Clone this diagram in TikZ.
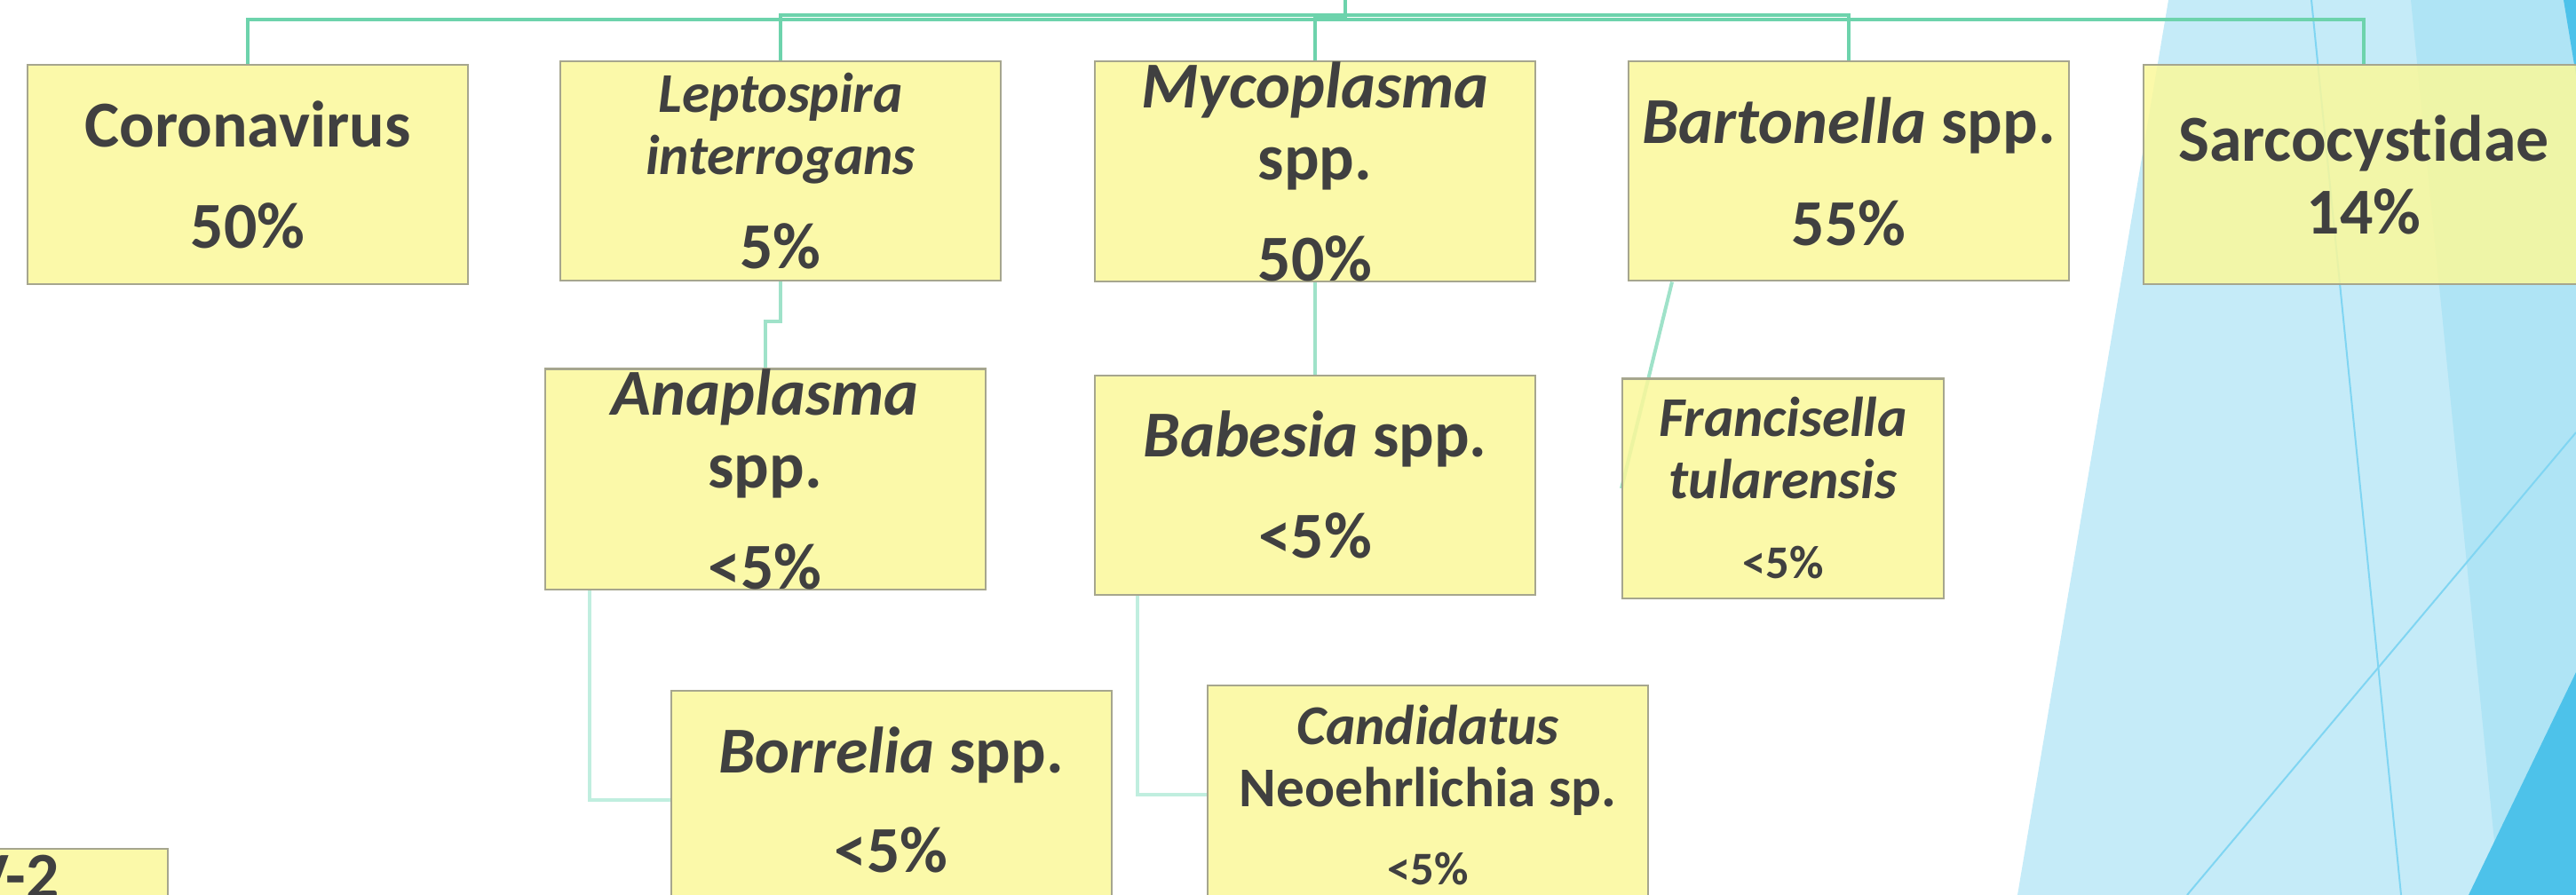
\documentclass[tikz,border=0pt]{standalone}
\usepackage{fontspec}
\setmainfont[Ligatures=NoCommon]{Carlito}
\usetikzlibrary{positioning, backgrounds}

\definecolor{boxfill}{HTML}{FAF89A}
\definecolor{boxline}{HTML}{A6A68E}
\definecolor{txtgray}{HTML}{404040}
\definecolor{linkdark}{HTML}{6DD3AC}
\definecolor{linkmid}{HTML}{9FE2C9}
\definecolor{linklight}{HTML}{C0EEDF}
\definecolor{skylight}{HTML}{C5EBF8}
\definecolor{skymid}{HTML}{AFE4F5}
\definecolor{skydeep}{HTML}{4DC2EA}
\definecolor{skyline}{HTML}{80D5F2}

\newcommand{\txtL}{\fontsize{21pt}{0.7cm}\selectfont}
\newcommand{\txtM}{\fontsize{18pt}{0.7cm}\selectfont}
\newcommand{\txtS}{\fontsize{15pt}{0.7cm}\selectfont}

\begin{document}
\begin{tikzpicture}[
    box/.style = {draw=boxline, line width=0.02cm, fill=boxfill, fill opacity=0.85, text opacity=1,
        text=txtgray, font=\bfseries\txtL, align=center, inner sep=0pt,
        minimum width=4.96cm, minimum height=2.47cm},
    trunk/.style = {linkdark, line width=0.04cm},
    branch/.style = {linkmid, line width=0.04cm},
    twig/.style = {linklight, line width=0.04cm},
    streak/.style = {skyline, line width=0.02cm}
]

    \useasboundingbox (0,0) rectangle (29.01,-10.08);
    \clip (0,0) rectangle (29.01,-10.08);

    \node[box] (corona) at (2.79,-1.97) {Coronavirus\\[0.44cm]50\%};
    \node[box, right = 1.02cm of corona, yshift=0.04cm] (lepto) {{\txtM\itshape Leptospira}\\{\txtM\itshape interrogans}\\[0.36cm]5\%};
    \node[box, right = 1.04cm of lepto] (myco) {{\itshape Mycoplasma}\\[0.11cm]spp.\\[0.44cm]50\%};
    \node[box, right = 1.03cm of myco] (barto) {{\itshape Bartonella} spp.\\[0.45cm]55\%};
    \node[box, right = 0.82cm of barto, yshift=-0.04cm] (sarco) {Sarcocystidae\\[0.12cm]14\%};

    \node[box, below = 0.97cm of lepto, xshift=-0.175cm] (anapl) {{\itshape Anaplasma}\\[0.12cm]spp.\\[0.44cm]<5\%};
    \node[box, below = 1.04cm of myco] (babes) {{\itshape Babesia} spp.\\[0.44cm]<5\%};
    \node[box, below = 1.08cm of barto, xshift=-0.74cm, minimum width=3.62cm] (franc) {{\txtM\itshape Francisella}\\{\txtM\itshape tularensis}\\[0.2cm]{\txtS <5\%}};

    \node[box, below = 1.12cm of anapl, xshift=1.42cm] (borre) {{\itshape Borrelia} spp.\\[0.42cm]<5\%};
    \node[box, below = 1cm of babes, xshift=1.27cm] (candi) {{\txtM\itshape Candidatus}\\{\txtM Neoehrlichia sp.}\\[0.18cm]{\txtS <5\%}};

    \node[box, anchor=north east, minimum width=3.45cm, minimum height=0.62cm] (sars) at (1.90,-9.55) {V-2};

    \coordinate (root) at (15.15,0);

    \begin{scope}[on background layer]
        \fill[skylight] (24.42,0) -- (22.72,-10.08) -- (29.01,-10.08) -- (29.01,0) -- cycle;
        \fill[skymid] (27.15,0) -- (28.15,-10.08) -- (29.01,-10.08) -- (29.01,0) -- cycle;
        \fill[skydeep] (28.87,0) -- (29.01,0) -- (29.01,-0.85) -- cycle;
        \fill[skydeep] (29.01,-7.57) -- (27.80,-10.08) -- (29.01,-10.08) -- cycle;
        \draw[streak] (26.03,0) -- (27.04,-10.08);
        \draw[streak] (24.63,-10.08) -- (29.01,-4.87);

        \draw[trunk] (root) -- ++(0,-0.22) -| (corona.north);
        \draw[trunk] (root) -- ++(0,-0.175) -| (lepto.north);
        \draw[trunk] (root) -- ++(0,-0.2) -| (myco.north);
        \draw[trunk] (root) -- ++(0,-0.175) -| (barto.north);
        \draw[trunk] (root) -- ++(0,-0.22) -| (sarco.north);

        \draw[branch] (lepto.south) -- ++(0,-0.45) -| (anapl.north);
        \draw[branch] (myco.south) -- (babes.north);
        \draw[branch] ([xshift=0.5cm]barto.south west) -- (franc.west);
        \draw[twig] ([xshift=0.51cm]anapl.south west) |- (borre.west);
        \draw[twig] ([xshift=0.49cm]babes.south west) |- (candi.west);
    \end{scope}

\end{tikzpicture}
\end{document}
